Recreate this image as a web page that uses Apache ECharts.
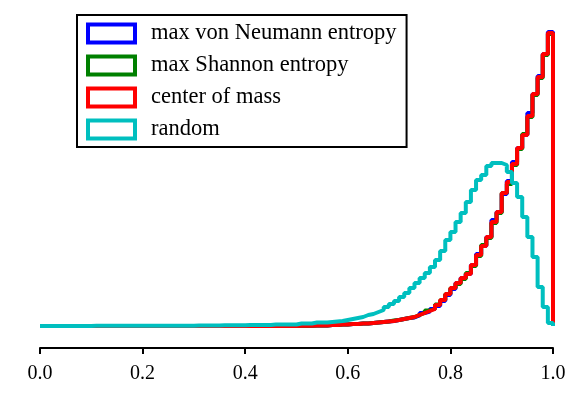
<!DOCTYPE html>
<html>
<head>
<meta charset="utf-8">
<script src="https://cdn.jsdelivr.net/npm/echarts@6/dist/echarts.min.js"></script>
<style>
  html, body { margin: 0; padding: 0; background: #fff; }
  #main { width: 581px; height: 398px; }
</style>
</head>
<body>
<div id="main"></div>
<script>
  // 100 bins of width 0.01 over [0, 1]
  var binWidth = 0.01;
  var xTicks = ['0.0', '0.2', '0.4', '0.6', '0.8', '1.0'];
  var seriesNames = ['max von Neumann entropy', 'max Shannon entropy', 'center of mass', 'random'];
  var seriesColors = ['#0000ff', '#008000', '#ff0000', '#00bfbf'];

  var vonNeumann = [
    0,0,0,0,0,0,0,0,0,0, 0,0,0,0,0,0,0,0,0,0,
    0,0,0,0,0,0,0,0,0,0, 0,0,0,0,0,0,0,0,0,0,
    0,0,0,0,0,0,0,0,0,0, 0.3,0.3,0.3,0.6,0.6,0.6,1,1,1.5,1.5,
    2,2,2.5,2.5,3,3.5,4,4.5,5,6, 7,8,8.5,10.5,13,14.5,17,20,25,31,
    37,43,48,52,61,72,80,89,106,114, 132,145,164,178,191,213,232,250,272,294
  ];
  var shannon = [
    0,0,0,0,0,0,0,0,0,0, 0,0,0,0,0,0,0,0,0,0,
    0,0,0,0,0,0,0,0,0,0, 0,0,0,0,0,0,0,0,0,0,
    0,0,0,0,0,0,0,0,0,0, 0.3,0.3,0.3,0.6,0.6,0.6,1,1,1.5,1.5,
    2,2,2.5,2.5,3,3.5,4,4.5,5.5,6, 7,8,9,11,13,15.5,17.5,21.5,26,32,
    38,42,47,53,60,70,81,88,103,113, 133,142,161,177,192,209,231,248,271,292
  ];
  var centerOfMass = [
    0,0,0,0,0,0,0,0,0,0, 0,0,0,0,0,0,0,0,0,0,
    0,0,0,0,0,0,0,0,0,0, 0,0,0,0,0,0,0,0,0,0,
    0,0,0,0,0,0,0,0,0,0, 0.3,0.3,0.3,0.6,0.6,0.6,1,1,1.5,1.5,
    2,2,2.5,2.5,3,3.5,4,4.5,5,6, 7,8,9,11,13,15,17,21,26,32,
    38,43,48,52,61,71,80,89,104,114, 133,144,162,178,191,210,232,249,272,293
  ];
  var random = [
    0.1,0.1,0.1,0.1,0.1,0.1,0.1,0.1,0.1,0.1, 0.2,0.2,0.2,0.2,0.2,0.2,0.2,0.2,0.2,0.2,
    0.3,0.3,0.3,0.3,0.3,0.3,0.3,0.3,0.3,0.3, 0.5,0.5,0.5,0.5,0.5,0.7,0.7,0.7,0.7,0.7,
    1,1,1,1,1,1.5,1.5,1.5,1.5,1.5, 2.5,2.5,2.5,3.5,3.5,3.5,4,4.5,5,6,
    7,8,9,11,12,14,16,19,22,25, 29,33,38,43,48,53,59,66,75,86,
    94,104,113,124,136,146,151,160,163,163, 161,154,143,129,109,89,69,39,19,3
  ];

  // step outline of a histogram: one point per left bin edge, then close at x = 1
  function stepData(heights) {
    var pts = [];
    heights.forEach(function (h, i) {
      pts.push([+(i * binWidth).toFixed(2), h]);
    });
    pts.push([1, heights[heights.length - 1]]);
    pts.push([1, 0]);
    return pts;
  }

  var allData = [vonNeumann, shannon, centerOfMass, random];

  var myChart = echarts.init(document.getElementById('main'));
  var option = {
    animation: false,
    textStyle: { fontFamily: 'Liberation Serif' },
    grid: { left: 40, right: 28, top: 28, bottom: 50 },
    legend: {
      orient: 'vertical',
      left: 77,
      top: 15,
      padding: [7, 10, 6, 9],
      itemGap: 9,
      itemWidth: 47,
      itemHeight: 18,
      backgroundColor: '#fff',
      borderColor: '#000',
      borderWidth: 2,
      textStyle: {
        fontFamily: 'Liberation Serif',
        fontSize: 22.5,
        lineHeight: 18,
        color: '#000',
        padding: [0, 0, 0, 11]
      },
      data: seriesNames.map(function (name, k) {
        return {
          name: name,
          icon: 'rect',
          itemStyle: { color: '#fff', borderColor: seriesColors[k], borderWidth: 4 }
        };
      })
    },
    xAxis: {
      type: 'value',
      min: 0,
      max: 1,
      interval: 0.2,
      splitLine: { show: false },
      axisLine: { onZero: false, lineStyle: { color: '#000', width: 2 } },
      axisTick: { show: true, length: 6, lineStyle: { color: '#000', width: 2 } },
      axisLabel: {
        color: '#000',
        fontSize: 20,
        fontFamily: 'Liberation Serif',
        margin: 16,
        formatter: function (v) {
          var i = Math.round(v / 0.2);
          return xTicks[i];
        }
      }
    },
    yAxis: {
      type: 'value',
      show: false,
      min: -22,
      max: 298
    },
    series: seriesNames.map(function (name, k) {
      return {
        name: name,
        type: 'line',
        step: 'end',
        showSymbol: false,
        symbol: 'none',
        color: seriesColors[k],
        lineStyle: { color: seriesColors[k], width: 4 },
        emphasis: { disabled: true },
        data: stepData(allData[k])
      };
    })
  };
  myChart.setOption(option);
</script>
</body>
</html>
